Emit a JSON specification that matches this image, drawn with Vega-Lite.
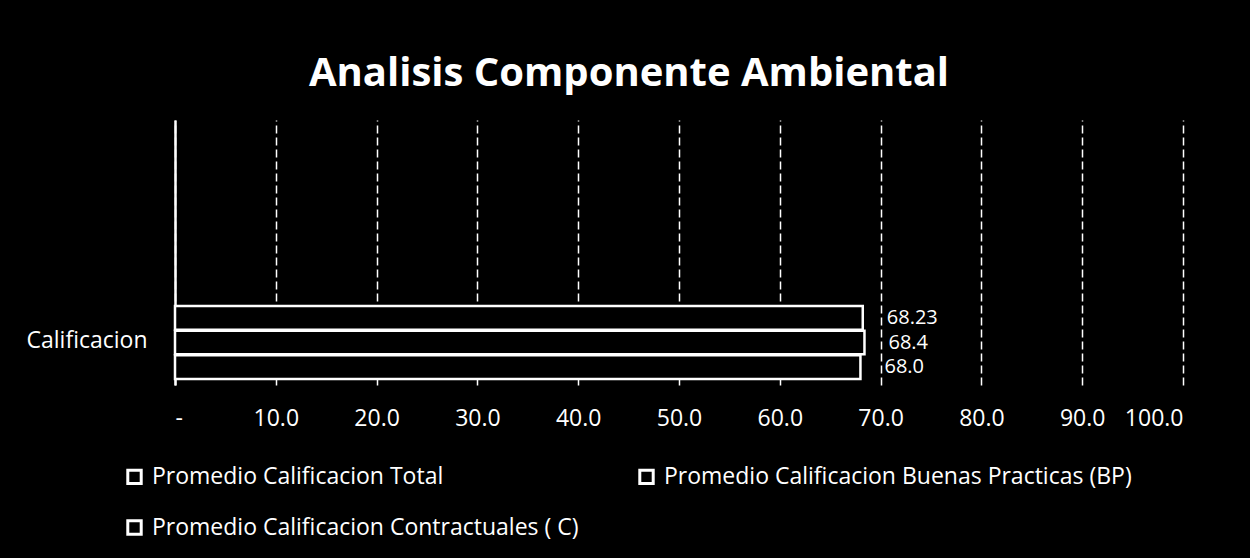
{
  "$schema": "https://vega.github.io/schema/vega-lite/v6.json",
  "width": 1008,
  "height": 265,
  "autosize": "none",
  "padding": {"left": 175, "top": 120, "right": 67, "bottom": 173},
  "background": "black",
  "config": {
    "view": {"stroke": null},
    "font": "Open Sans"
  },
  "title": {
    "text": "Analisis Componente Ambiental",
    "font": "Open Sans",
    "fontSize": 40,
    "fontWeight": "bold",
    "color": "white",
    "anchor": "middle",
    "dx": -50,
    "offset": 26
  },
  "data": {
    "values": [
      {"categoria": "Calificacion", "serie": "Promedio Calificacion Total", "valor": 68.23, "etiqueta": "68.23"},
      {"categoria": "Calificacion", "serie": "Promedio Calificacion Buenas Practicas  (BP)", "valor": 68.4, "etiqueta": "68.4"},
      {"categoria": "Calificacion", "serie": "Promedio Calificacion Contractuales ( C)", "valor": 68.0, "etiqueta": "68.0"}
    ]
  },
  "encoding": {
    "y": {
      "field": "categoria",
      "type": "nominal",
      "title": null,
      "scale": {"paddingInner": 0, "paddingOuter": 0},
      "axis": {
        "labelColor": "white",
        "labelFontSize": 23,
        "labelPadding": 28,
        "labelOffset": 88,
        "ticks": false,
        "domain": true,
        "domainColor": "white",
        "domainWidth": 2.5,
        "grid": false
      }
    },
    "yOffset": {
      "field": "serie",
      "type": "nominal",
      "sort": null,
      "scale": {"range": [186, 259], "paddingInner": 0.04, "paddingOuter": 0}
    },
    "x": {
      "field": "valor",
      "type": "quantitative",
      "title": null,
      "scale": {"domain": [0, 100]},
      "axis": {
        "values": [0, 10, 20, 30, 40, 50, 60, 70, 80, 90, 100],
        "labelExpr": "datum.value == 0 ? '-' : format(datum.value, '.1f')",
        "labelColor": "white",
        "labelFontSize": 23,
        "labelPadding": 22,
        "ticks": false,
        "domain": false,
        "grid": true,
        "gridColor": "white",
        "gridWidth": 1.5,
        "gridDash": [8, 4]
      }
    }
  },
  "layer": [
    {
      "mark": {"type": "bar", "stroke": "white", "strokeWidth": 2.5},
      "encoding": {
        "color": {
          "field": "serie",
          "type": "nominal",
          "sort": null,
          "title": null,
          "scale": {"range": ["black", "black", "black"]},
          "legend": {
            "orient": "none",
            "legendX": -52,
            "legendY": 345,
            "direction": "horizontal",
            "columns": 2,
            "columnPadding": 54,
            "rowPadding": 24,
            "symbolType": "square",
            "symbolSize": 180,
            "symbolStrokeColor": "white",
            "symbolFillColor": "black",
            "symbolStrokeWidth": 3,
            "labelColor": "white",
            "labelFontSize": 23,
            "labelLimit": 700,
            "labelOffset": 6
          }
        }
      }
    },
    {
      "mark": {"type": "text", "align": "left", "dx": 24, "color": "white", "fontSize": 20},
      "encoding": {"text": {"field": "etiqueta", "type": "nominal"}}
    }
  ]
}
